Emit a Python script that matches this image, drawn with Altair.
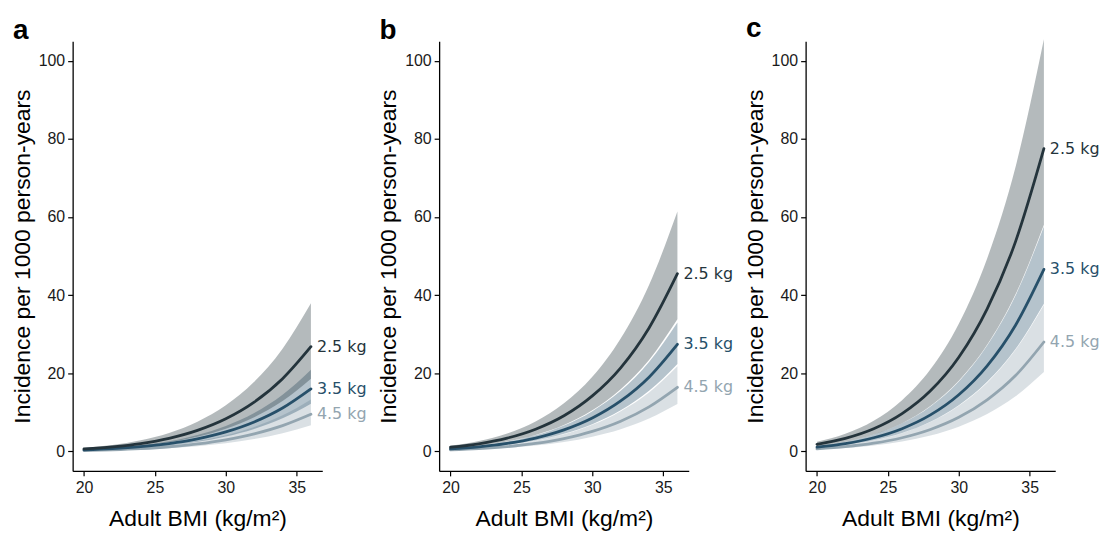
import altair as alt
import pandas as pd

BMI = [20, 22, 24, 26, 28, 30, 32, 34, 36]
GROUPS = ["2.5 kg", "3.5 kg", "4.5 kg"]
COLORS = ["#24343c", "#27506a", "#93a5b0"]
PANELS = ["a", "b", "c"]

# Panel a
A_25_EST = [0.62, 1.15, 2.0, 3.34, 5.37, 8.34, 12.6, 18.6, 26.8]
A_25_LO = [0.43, 0.80, 1.39, 2.32, 3.73, 5.79, 8.75, 12.9, 18.6]
A_25_HI = [0.88, 1.62, 2.83, 4.72, 7.59, 11.8, 17.8, 26.3, 37.9]
A_35_EST = [0.37, 0.68, 1.19, 1.99, 3.20, 4.98, 7.53, 11.1, 16.0]
A_35_LO = [0.28, 0.52, 0.91, 1.52, 2.44, 3.80, 5.74, 8.46, 12.2]
A_35_HI = [0.48, 0.89, 1.56, 2.60, 4.19, 6.51, 9.83, 14.5, 20.9]
A_45_EST = [0.22, 0.41, 0.71, 1.18, 1.90, 2.96, 4.47, 6.59, 9.5]
A_45_LO = [0.16, 0.29, 0.50, 0.83, 1.34, 2.09, 3.15, 4.65, 6.7]
A_45_HI = [0.31, 0.57, 0.99, 1.66, 2.66, 4.14, 6.26, 9.22, 13.3]

# Panel b
B_25_EST = [1.06, 1.95, 3.39, 5.67, 9.11, 14.2, 21.4, 31.6, 45.5]
B_25_LO = [0.78, 1.45, 2.52, 4.21, 6.77, 10.5, 15.9, 23.4, 33.8]
B_25_HI = [1.42, 2.63, 4.58, 7.65, 12.3, 19.1, 28.9, 42.6, 61.4]
B_35_EST = [0.64, 1.17, 2.04, 3.41, 5.49, 8.53, 12.9, 19.0, 27.4]
B_35_LO = [0.52, 0.96, 1.67, 2.79, 4.49, 6.97, 10.5, 15.5, 22.4]
B_35_HI = [0.77, 1.41, 2.46, 4.11, 6.61, 10.3, 15.5, 22.9, 33.0]
B_45_EST = [0.38, 0.70, 1.22, 2.04, 3.28, 5.11, 7.72, 11.4, 16.4]
B_45_LO = [0.28, 0.52, 0.90, 1.51, 2.42, 3.77, 5.69, 8.39, 12.1]
B_45_HI = [0.51, 0.93, 1.63, 2.72, 4.37, 6.79, 10.3, 15.1, 21.8]

# Panel c
C_25_EST = [1.80, 3.32, 5.78, 9.66, 15.5, 24.1, 36.5, 53.7, 77.5]
C_25_LO = [1.35, 2.48, 4.33, 7.23, 11.6, 18.1, 27.3, 40.2, 58.0]
C_25_HI = [2.44, 4.49, 7.83, 13.1, 21.0, 32.7, 49.4, 72.8, 105.5]
C_35_EST = [1.08, 1.99, 3.48, 5.81, 9.33, 14.5, 21.9, 32.3, 46.6]
C_35_LO = [0.88, 1.62, 2.82, 4.71, 7.57, 11.8, 17.8, 26.2, 37.8]
C_35_HI = [1.34, 2.47, 4.30, 7.18, 11.5, 17.9, 27.1, 39.9, 57.6]
C_45_EST = [0.65, 1.20, 2.09, 3.49, 5.61, 8.72, 13.2, 19.4, 28.0]
C_45_LO = [0.47, 0.87, 1.51, 2.53, 4.07, 6.32, 9.55, 14.1, 20.3]
C_45_HI = [0.87, 1.61, 2.80, 4.67, 7.51, 11.7, 17.6, 26.0, 37.5]

SERIES = {
    ("a", "2.5 kg"): (A_25_EST, A_25_LO, A_25_HI),
    ("a", "3.5 kg"): (A_35_EST, A_35_LO, A_35_HI),
    ("a", "4.5 kg"): (A_45_EST, A_45_LO, A_45_HI),
    ("b", "2.5 kg"): (B_25_EST, B_25_LO, B_25_HI),
    ("b", "3.5 kg"): (B_35_EST, B_35_LO, B_35_HI),
    ("b", "4.5 kg"): (B_45_EST, B_45_LO, B_45_HI),
    ("c", "2.5 kg"): (C_25_EST, C_25_LO, C_25_HI),
    ("c", "3.5 kg"): (C_35_EST, C_35_LO, C_35_HI),
    ("c", "4.5 kg"): (C_45_EST, C_45_LO, C_45_HI),
}

rows = []
for (p, g), (est, lo, hi) in SERIES.items():
    for i, b in enumerate(BMI):
        rows.append({"panel": p, "group": g, "bmi": b, "est": est[i], "lo": lo[i], "hi": hi[i]})
df = pd.DataFrame(rows)

FONT = "Liberation Sans"

xscale = alt.Scale(domain=[19.2, 36.8], nice=False, zero=False)
yscale = alt.Scale(domain=[-5, 105], nice=False, zero=False)
xaxis = alt.Axis(values=[20, 25, 30, 35], title="Adult BMI (kg/m²)")
yaxis = alt.Axis(values=[0, 20, 40, 60, 80, 100], title="Incidence per 1000 person-years")
color = alt.Color("group:N", scale=alt.Scale(domain=GROUPS, range=COLORS), legend=None)


def panel(letter):
    d = df[df.panel == letter]
    base = alt.Chart(d).encode(x=alt.X("bmi:Q", scale=xscale, axis=xaxis))
    layers = []
    for g in reversed(GROUPS):
        layers.append(
            base.transform_filter(alt.datum.group == g)
            .mark_area(opacity=0.34, interpolate="monotone")
            .encode(y=alt.Y("lo:Q", scale=yscale, axis=yaxis), y2="hi:Q", color=color)
        )
    for g in reversed(GROUPS):
        layers.append(
            base.transform_filter(alt.datum.group == g)
            .mark_line(strokeWidth=2.8, interpolate="monotone", strokeCap="round")
            .encode(y=alt.Y("est:Q", scale=yscale, axis=yaxis), color=color)
        )
    layers.append(
        base.transform_filter(alt.datum.bmi == 36)
        .mark_text(align="left", baseline="middle", dx=6, font="DejaVu Sans", fontSize=16)
        .encode(y=alt.Y("est:Q", scale=yscale, axis=yaxis), text="group:N", color=color)
    )
    return alt.layer(*layers).properties(
        width=251,
        height=432,
        title=alt.TitleParams(
            letter, anchor="start", frame="group", dx=-60, fontSize=28,
            fontWeight="bold", font=FONT, color="black", offset=-4,
        ),
    )


chart = alt.hconcat(*[panel(p) for p in PANELS], spacing=117.5, bounds="flush").properties(
    padding={"left": 3, "top": 6, "right": 0, "bottom": 0}
).configure_view(
    stroke=None
).configure_axis(
    grid=False,
    domainColor="black",
    domainWidth=1.3,
    tickColor="black",
    tickWidth=1.2,
    tickSize=5,
    labelFont=FONT,
    labelFontSize=16,
    labelColor="#1a1a1a",
    labelPadding=3,
    titleFont=FONT,
    titleFontSize=23,
    titleFontWeight="normal",
    titleColor="black",
).configure_axisX(labelPadding=4, titlePadding=12).configure_axisY(titlePadding=4)

chart.save("out.html", embed_options={"renderer": "svg", "actions": False})
